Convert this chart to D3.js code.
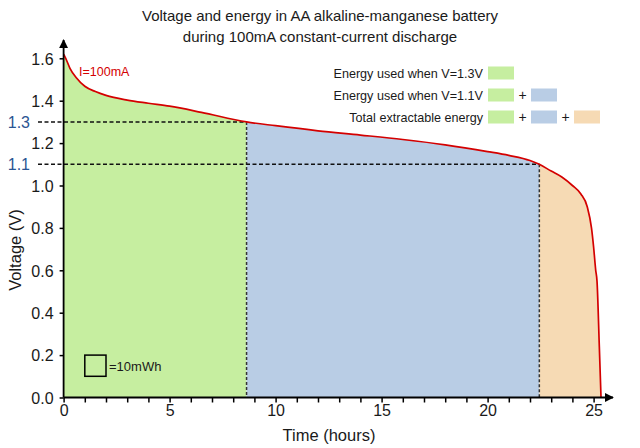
<!DOCTYPE html>
<html>
<head>
<meta charset="utf-8">
<script src="https://cdn.jsdelivr.net/npm/d3@7"></script>
<style>
  body { margin: 0; background: #fff; }
  text { font-family: "Liberation Sans", Arial, sans-serif; fill: #1a1a1a; }
</style>
</head>
<body>
<div id="chart"></div>
<script>
// discharge curve
const times = [0, 0.1, 0.3, 0.6, 1, 1.5, 2, 3, 4, 5, 6.5, 8.63, 10, 12, 14, 16, 18, 20, 21, 22, 22.44, 23, 23.5, 24, 24.4, 24.7, 24.9, 25.0, 25.1, 25.16, 25.27, 25.35];
const volts = [1.62, 1.6, 1.553, 1.508, 1.468, 1.443, 1.425, 1.403, 1.388, 1.374, 1.345, 1.30, 1.282, 1.258, 1.238, 1.217, 1.192, 1.16, 1.142, 1.118, 1.10, 1.068, 1.04, 1.0, 0.96, 0.9, 0.8, 0.71, 0.6, 0.55, 0.24, 0.0];

const cutTimes = [8.63, 22.44];
const cutVolts = [1.3, 1.1];
const yTicks = [0, 0.2, 0.4, 0.6, 0.8, 1.0, 1.2, 1.4, 1.6];
const xMajor = [0, 5, 10, 15, 20, 25];
const xMinor = d3.range(0, 26);
const regionColors = ["#c6eea0", "#b9cde5", "#f6dab4"];
const legendLabels = ["Energy used when V=1.3V", "Energy used when V=1.1V", "Total extractable energy"];

const width = 640, height = 448;
const data = times.map((t, i) => ({ t: t, v: volts[i] }));

const svg = d3.select("#chart").append("svg")
    .attr("width", width)
    .attr("height", height);

const x = d3.scaleLinear().domain([0, 25]).range([63.6, 593.6]);
const y = d3.scaleLinear().domain([0, 1.6]).range([397.5, 58.3]);

// Regions under the curve, clipped by time
const bounds = [0, cutTimes[0], cutTimes[1], 26];
const area = d3.area().x(d => x(d.t)).y0(y(0)).y1(d => y(d.v)).curve(d3.curveMonotoneX);
const defs = svg.append("defs");
regionColors.forEach((c, i) => {
    defs.append("clipPath").attr("id", "clip" + i)
        .append("rect")
        .attr("x", x(bounds[i])).attr("y", 0)
        .attr("width", x(bounds[i + 1]) - x(bounds[i]))
        .attr("height", height);
    svg.append("path")
        .datum(data)
        .attr("clip-path", `url(#clip${i})`)
        .attr("fill", c)
        .attr("d", area);
});

// Dashed guides
cutTimes.forEach((t, i) => {
    svg.append("line")
        .attr("x1", 38).attr("x2", x(t))
        .attr("y1", y(cutVolts[i])).attr("y2", y(cutVolts[i]))
        .attr("stroke", "#111").attr("stroke-width", 1.5).attr("stroke-dasharray", "4,2.5");
    svg.append("line")
        .attr("x1", x(t)).attr("x2", x(t))
        .attr("y1", y(cutVolts[i])).attr("y2", y(0))
        .attr("stroke", "#333").attr("stroke-width", 1.5).attr("stroke-dasharray", "3,2");
    svg.append("text")
        .attr("x", 30).attr("y", y(cutVolts[i]) + 6)
        .attr("text-anchor", "end")
        .style("font-size", "16px")
        .style("fill", "#2a5592")
        .text(cutVolts[i].toFixed(1));
});

// Curve
svg.append("path")
    .datum(data)
    .attr("fill", "none")
    .attr("stroke", "#d40000")
    .attr("stroke-width", 1.7)
    .attr("d", d3.line().x(d => x(d.t)).y(d => y(d.v)).curve(d3.curveMonotoneX));

svg.append("text")
    .attr("x", 79).attr("y", 76)
    .style("font-size", "12.5px")
    .style("fill", "#d40000")
    .text("I=100mA");

// Axes with arrow heads
defs.append("marker").attr("id", "arrow")
    .attr("viewBox", "0 0 10 10").attr("refX", 9).attr("refY", 5)
    .attr("markerWidth", 5).attr("markerHeight", 5).attr("orient", "auto")
    .append("path").attr("d", "M0,0L10,5L0,10Z").attr("fill", "#000");

svg.append("line")
    .attr("x1", x(0)).attr("x2", x(0)).attr("y1", y(0)).attr("y2", 40)
    .attr("stroke", "#000").attr("stroke-width", 1.8).attr("marker-end", "url(#arrow)");
svg.append("line")
    .attr("x1", x(0)).attr("x2", 613).attr("y1", y(0)).attr("y2", y(0))
    .attr("stroke", "#000").attr("stroke-width", 1.8).attr("marker-end", "url(#arrow)");

const yAxis = svg.append("g")
    .attr("transform", `translate(${x(0)},0)`)
    .call(d3.axisLeft(y).tickValues(yTicks).tickSize(4).tickPadding(6).tickFormat(d3.format(".1f")));
yAxis.select(".domain").remove();
yAxis.selectAll("line").attr("stroke-width", 1.5);
yAxis.selectAll("text").style("font-size", "16px").attr("dy", "0.36em");

const xMinorAxis = svg.append("g")
    .attr("transform", `translate(0,${y(0)})`)
    .call(d3.axisBottom(x).tickValues(xMinor).tickSize(5).tickFormat(""));
xMinorAxis.select(".domain").remove();
xMinorAxis.selectAll("line").attr("stroke-width", 1.5);

const xAxis = svg.append("g")
    .attr("transform", `translate(0,${y(0)})`)
    .call(d3.axisBottom(x).tickValues(xMajor).tickSize(0).tickPadding(7));
xAxis.select(".domain").remove();
xAxis.selectAll("text").style("font-size", "16px");

svg.append("text")
    .attr("x", 329).attr("y", 441)
    .attr("text-anchor", "middle")
    .style("font-size", "16.5px")
    .text("Time (hours)");

svg.append("text")
    .attr("transform", "translate(21,250) rotate(-90)")
    .attr("text-anchor", "middle")
    .style("font-size", "16.5px")
    .text("Voltage (V)");

// Title
svg.append("text")
    .attr("x", 320).attr("y", 21)
    .attr("text-anchor", "middle")
    .style("font-size", "15px")
    .text("Voltage and energy in AA alkaline-manganese battery");
svg.append("text")
    .attr("x", 320).attr("y", 42)
    .attr("text-anchor", "middle")
    .style("font-size", "15px")
    .text("during 100mA constant-current discharge");

// Scale box: 1 hour x 0.1 V at 100 mA = 10 mWh
svg.append("rect")
    .attr("x", x(1)).attr("y", y(0.2))
    .attr("width", x(2) - x(1)).attr("height", y(0.1) - y(0.2))
    .attr("fill", "none").attr("stroke", "#000").attr("stroke-width", 1.5);
svg.append("text")
    .attr("x", x(2) + 3).attr("y", y(0.15) + 5)
    .style("font-size", "13px")
    .text("=10mWh");

// Legend
const legendRowY = [73, 95, 117];
const swW = 26, swH = 13, swGap = 17;
legendLabels.forEach((lab, i) => {
    const g = svg.append("g").attr("transform", `translate(0,${legendRowY[i]})`);
    g.append("text")
        .attr("x", 483).attr("y", 4.5)
        .attr("text-anchor", "end")
        .style("font-size", "12.6px")
        .text(lab);
    for (let k = 0; k <= i; k++) {
        const sx = 488 + k * (swW + swGap);
        g.append("rect")
            .attr("x", sx).attr("y", -swH / 2)
            .attr("width", swW).attr("height", swH)
            .attr("fill", regionColors[k]);
        if (k > 0) {
            g.append("text")
                .attr("x", sx - swGap / 2).attr("y", 5)
                .attr("text-anchor", "middle")
                .style("font-size", "14px")
                .text("+");
        }
    }
});
</script>
</body>
</html>
